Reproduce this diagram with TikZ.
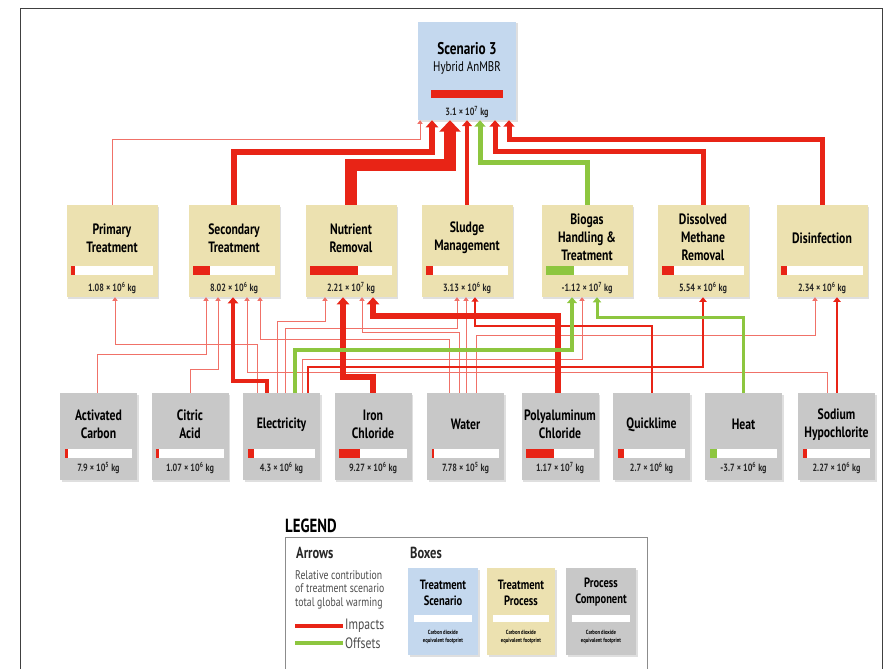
\documentclass[tikz,border=0pt]{standalone}
\usepackage{fontspec}
\setmainfont{PT Sans}[FakeStretch=0.78]
\usetikzlibrary{arrows.meta,calc,shadows}

\definecolor{impred}{RGB}{232,36,22}
\definecolor{offgreen}{RGB}{141,198,63}
\definecolor{scenblue}{RGB}{196,216,238}
\definecolor{proctan}{RGB}{236,225,176}
\definecolor{compgray}{RGB}{200,200,200}

% white gauge with coloured part, inside a box node
\newcommand{\gauge}[3]{%
  \fill[white] ($(#1.south west)+(5,-31)$) rectangle ($(#1.south east)+(-5,-22)$);
  \fill[#3] ($(#1.south west)+(5,-31)$) rectangle ++(#2,9);
}

\begin{document}
\begin{tikzpicture}[x=1pt,y=-1pt,
  box/.style={rectangle, inner sep=0pt, drop shadow={shadow xshift=1.5pt, shadow yshift=-1.5pt, opacity=0.25}},
  scen/.style={box, fill=scenblue, minimum width=98pt, minimum height=98pt},
  proc/.style={box, fill=proctan, minimum width=91pt, minimum height=92pt},
  comp/.style={box, fill=compgray, minimum width=77pt, minimum height=87pt},
  ttl/.style={align=center, inner sep=0pt, font=\fontsize{15}{18}\selectfont\bfseries},
  val/.style={inner sep=0pt, text=black!85, font=\fontsize{10.5}{12}\selectfont\bfseries},
  flowline/.style={line width=#1, -{Triangle[length=3pt 0.7, width=4pt 1.4]}},
  imparrow/.style={draw=impred, flowline=#1},
  offarrow/.style={draw=offgreen, flowline=#1},
  faintarrow/.style={draw=impred!65, flowline=0.8pt},
]
\clip (0,0) rectangle (884,669);
\useasboundingbox (0,0) rectangle (884,669);
\draw[black!75, line width=0.8pt] (20,680) -- (20,8) -- (882,8) -- (882,680);

% scenario
\node[scen] (scen) at (467,71) {};
\node[ttl, font=\fontsize{17}{20}\selectfont\bfseries] (scenT) at (467,49) {Scenario 3};
\node[inner sep=0pt, font=\fontsize{14}{16}\selectfont] (scenS) at (467,68) {Hybrid AnMBR};
\fill[impred] ($(scen.south west)+(13,-30)$) rectangle ($(scen.south east)+(-13,-22)$);
\node[val] (scenV) at ([yshift=8pt]scen.south) {3.1 × 10\textsuperscript{7} kg};

% treatment processes
\node[proc] (prim) at (112,251) {};
\node[ttl] (primT) at ([yshift=13pt]prim.center) {Primary\\Treatment};
\gauge{prim}{4}{impred}
\node[val] (primV) at ([yshift=9pt]prim.south) {1.08 × 10\textsuperscript{6} kg};

\node[proc] (sec) at (234,251) {};
\node[ttl] (secT) at ([yshift=13pt]sec.center) {Secondary\\Treatment};
\gauge{sec}{17}{impred}
\node[val] (secV) at ([yshift=9pt]sec.south) {8.02 × 10\textsuperscript{6} kg};

\node[proc] (nutr) at (351,251) {};
\node[ttl] (nutrT) at ([yshift=13pt]nutr.center) {Nutrient\\Removal};
\gauge{nutr}{48}{impred}
\node[val] (nutrV) at ([yshift=9pt]nutr.south) {2.21 × 10\textsuperscript{7} kg};

\node[proc] (sludge) at (467,251) {};
\node[ttl] (sludgeT) at ([yshift=13pt]sludge.center) {Sludge\\Management};
\gauge{sludge}{7}{impred}
\node[val] (sludgeV) at ([yshift=9pt]sludge.south) {3.13 × 10\textsuperscript{6} kg};

\node[proc] (biogas) at (587,251) {};
\node[ttl] (biogasT) at ([yshift=14pt]biogas.center) {Biogas\\Handling \&\\Treatment};
\gauge{biogas}{28}{offgreen}
\node[val] (biogasV) at ([yshift=9pt]biogas.south) {-1.12 × 10\textsuperscript{7} kg};

\node[proc] (dmeth) at (703,251) {};
\node[ttl] (dmethT) at ([yshift=14pt]dmeth.center) {Dissolved\\Methane\\Removal};
\gauge{dmeth}{12}{impred}
\node[val] (dmethV) at ([yshift=9pt]dmeth.south) {5.54 × 10\textsuperscript{6} kg};

\node[proc] (disinf) at (822,251) {};
\node[ttl] (disinfT) at ([yshift=13pt]disinf.center) {Disinfection};
\gauge{disinf}{6}{impred}
\node[val] (disinfV) at ([yshift=9pt]disinf.south) {2.34 × 10\textsuperscript{6} kg};

% process components
\node[comp] (actc) at (98.5,436.5) {};
\node[ttl] (actcT) at ([yshift=12pt]actc.center) {Activated\\Carbon};
\gauge{actc}{3}{impred}
\node[val] (actcV) at ([yshift=12pt]actc.south) {7.9 × 10\textsuperscript{5} kg};

\node[comp] (citric) at (190,436.5) {};
\node[ttl] (citricT) at ([yshift=12pt]citric.center) {Citric\\Acid};
\gauge{citric}{3}{impred}
\node[val] (citricV) at ([yshift=12pt]citric.south) {1.07 × 10\textsuperscript{6} kg};

\node[comp] (elec) at (281.5,436.5) {};
\node[ttl] (elecT) at ([yshift=12pt]elec.center) {Electricity};
\gauge{elec}{6}{impred}
\node[val] (elecV) at ([yshift=12pt]elec.south) {4.3 × 10\textsuperscript{6} kg};

\node[comp] (fecl) at (373,436.5) {};
\node[ttl] (feclT) at ([yshift=12pt]fecl.center) {Iron\\Chloride};
\gauge{fecl}{21}{impred}
\node[val] (feclV) at ([yshift=12pt]fecl.south) {9.27 × 10\textsuperscript{6} kg};

\node[comp] (water) at (465.5,436.5) {};
\node[ttl] (waterT) at ([yshift=12pt]water.center) {Water};
\gauge{water}{2}{impred}
\node[val] (waterV) at ([yshift=12pt]water.south) {7.78 × 10\textsuperscript{5} kg};

\node[comp] (pacl) at (560,436.5) {};
\node[ttl] (paclT) at ([yshift=12pt]pacl.center) {Polyaluminum\\Chloride};
\gauge{pacl}{28}{impred}
\node[val] (paclV) at ([yshift=12pt]pacl.south) {1.17 × 10\textsuperscript{7} kg};

\node[comp] (lime) at (651.5,436.5) {};
\node[ttl] (limeT) at ([yshift=12pt]lime.center) {Quicklime};
\gauge{lime}{6}{impred}
\node[val] (limeV) at ([yshift=12pt]lime.south) {2.7 × 10\textsuperscript{6} kg};

\node[comp] (heat) at (743.5,436.5) {};
\node[ttl] (heatT) at ([yshift=12pt]heat.center) {Heat};
\gauge{heat}{7}{offgreen}
\node[val] (heatV) at ([yshift=12pt]heat.south) {-3.7 × 10\textsuperscript{6} kg};

\node[comp] (naocl) at (836.5,436.5) {};
\node[ttl] (naoclT) at ([yshift=12pt]naocl.center) {Sodium\\Hypochlorite};
\gauge{naocl}{4}{impred}
\node[val] (naoclV) at ([yshift=12pt]naocl.south) {2.27 × 10\textsuperscript{6} kg};

% processes -> scenario
\draw[faintarrow] (prim.north) -- ++(0,-65) -| ([xshift=-47pt]scen.south);
\draw[imparrow=6pt] (sec.north) -- ++(0,-53) -| ([xshift=-35pt]scen.south);
\draw[imparrow=12pt] (nutr.north) -- ++(0,-40) -| ([xshift=-17pt]scen.south);
\draw[imparrow=4pt] (sludge.north) -- (scen.south);
\draw[offarrow=5pt] (biogas.north) -- ++(0,-42) -| ([xshift=13pt]scen.south);
\draw[imparrow=5pt] (dmeth.north) -- ++(0,-53) -| ([xshift=28pt]scen.south);
\draw[imparrow=5pt] (disinf.north) -- ++(0,-65) -| ([xshift=42pt]scen.south);

% components -> processes, small shares
\draw[faintarrow] ([xshift=-24.5pt]elec.north) -- ++(0,-48) -| ([xshift=3pt]prim.south);
\draw[faintarrow] ([xshift=-1.5pt]actc.north) -- ++(0,-38) -| ([xshift=-28pt]sec.south);
\draw[faintarrow] (citric.north) -- ++(0,-23) -| ([xshift=-16pt]sec.south);
\draw[faintarrow] ([xshift=-16.5pt]water.north) -- ++(0,-53) -| ([xshift=26pt]sec.south);
\draw[faintarrow] ([xshift=-9.5pt]naocl.north) -- ++(0,-20) -| ([xshift=13pt]sec.south);
\draw[faintarrow] ([xshift=-4.5pt]elec.north) -- ++(0,-71) -| ([xshift=-26pt]nutr.south);
\draw[faintarrow] ([xshift=-6.5pt]water.north) -- ++(0,-60) -| ([xshift=11pt]nutr.south);
\draw[faintarrow] ([xshift=3.5pt]elec.north) -- ++(0,-64) -| ([xshift=-10pt]sludge.south);
\draw[faintarrow] ([xshift=0.5pt]water.north) -- ([xshift=-1pt]sludge.south);
\draw[faintarrow] ([xshift=20.5pt]elec.north) -- ++(0,-33) -| ([xshift=-5pt]biogas.south);
\draw[faintarrow] ([xshift=10.5pt]water.north) -- ++(0,-57) -| ([xshift=-7pt]disinf.south);

% components -> processes, large shares
\draw[imparrow=2pt] ([xshift=0.5pt]lime.north) -- ++(0,-67) -| ([xshift=8pt]sludge.south);
\draw[imparrow=2.5pt] ([xshift=26.5pt]elec.north) -- ++(0,-26) -| (dmeth.south);
\draw[imparrow=2.5pt] ([xshift=0.5pt]naocl.north) -- ([xshift=15pt]disinf.south);
\draw[imparrow=4.5pt] ([xshift=-14.5pt]elec.north) -- ++(0,-12) -| ([xshift=-1pt]sec.south);
\draw[imparrow=6pt] (fecl.north) -- ++(0,-16) -| ([xshift=-8pt]nutr.south);
\draw[imparrow=6pt] ([xshift=-2pt]pacl.north) -- ++(0,-77) -| ([xshift=22pt]nutr.south);
\draw[offarrow=3pt] (heat.north) -- ++(0,-75) -| ([xshift=10pt]biogas.south);
\draw[offarrow=4pt] ([xshift=13.5pt]elec.north) -- ++(0,-43) -| ([xshift=-15pt]biogas.south);

% legend
\node[anchor=west, inner sep=0pt, font=\fontsize{19}{21}\selectfont\bfseries] (legT) at (285,526) {LEGEND};
\node[draw=black!45, line width=0.8pt, minimum width=362pt, minimum height=150pt, anchor=north west, inner sep=0pt] (legBox) at (285,537) {};
\node[anchor=west, inner sep=0pt, text=black!85, font=\fontsize{16}{18}\selectfont\bfseries] (legArr) at (296,553) {Arrows};
\node[anchor=west, inner sep=0pt, text=black!85, font=\fontsize{16}{18}\selectfont\bfseries] (legBx) at (410,553) {Boxes};
\node[anchor=north west, align=left, inner sep=0pt, text=black!70, font=\fontsize{12.5}{13.5}\selectfont] (legNote) at (295,570) {Relative contribution\\of treatment scenario\\total global warming};
\node[anchor=west, inner sep=0pt, text=black!70, font=\fontsize{15}{17}\selectfont] (legImp) at (345,626) {Impacts};
\node[anchor=west, inner sep=0pt, text=black!70, font=\fontsize{15}{17}\selectfont] (legOff) at (345,643) {Offsets};
\draw[impred, line width=4pt] ([xshift=-2pt]legImp.west) -- ++(-48,0);
\draw[offgreen, line width=4pt] ([xshift=-2pt]legOff.west) -- ++(-48,0);

\node[scen, minimum width=70pt, minimum height=87pt] (legScen) at (443,611.5) {};
\node[ttl, font=\fontsize{13.5}{16}\selectfont\bfseries] (legScenT) at ([yshift=19pt]legScen.center) {Treatment\\Scenario};
\fill[white] ($(legScen.south west)+(6,-40)$) rectangle ($(legScen.south east)+(-6,-33)$);
\node[align=center, inner sep=0pt, font=\fontsize{6}{7.5}\selectfont\bfseries] (legScenV) at ([yshift=18pt]legScen.south) {Carbon dioxide\\equivalent footprint};

\node[proc, minimum width=68pt, minimum height=87pt] (legProc) at (521,611.5) {};
\node[ttl, font=\fontsize{13.5}{16}\selectfont\bfseries] (legProcT) at ([yshift=19pt]legProc.center) {Treatment\\Process};
\fill[white] ($(legProc.south west)+(6,-40)$) rectangle ($(legProc.south east)+(-6,-33)$);
\node[align=center, inner sep=0pt, font=\fontsize{6}{7.5}\selectfont\bfseries] (legProcV) at ([yshift=18pt]legProc.south) {Carbon dioxide\\equivalent footprint};

\node[comp, minimum width=70pt, minimum height=87pt] (legComp) at (601,611.5) {};
\node[ttl, font=\fontsize{13.5}{16}\selectfont\bfseries] (legCompT) at ([yshift=19pt]legComp.center) {Process\\Component};
\fill[white] ($(legComp.south west)+(6,-40)$) rectangle ($(legComp.south east)+(-6,-33)$);
\node[align=center, inner sep=0pt, font=\fontsize{6}{7.5}\selectfont\bfseries] (legCompV) at ([yshift=18pt]legComp.south) {Carbon dioxide\\equivalent footprint};
\end{tikzpicture}
\end{document}
